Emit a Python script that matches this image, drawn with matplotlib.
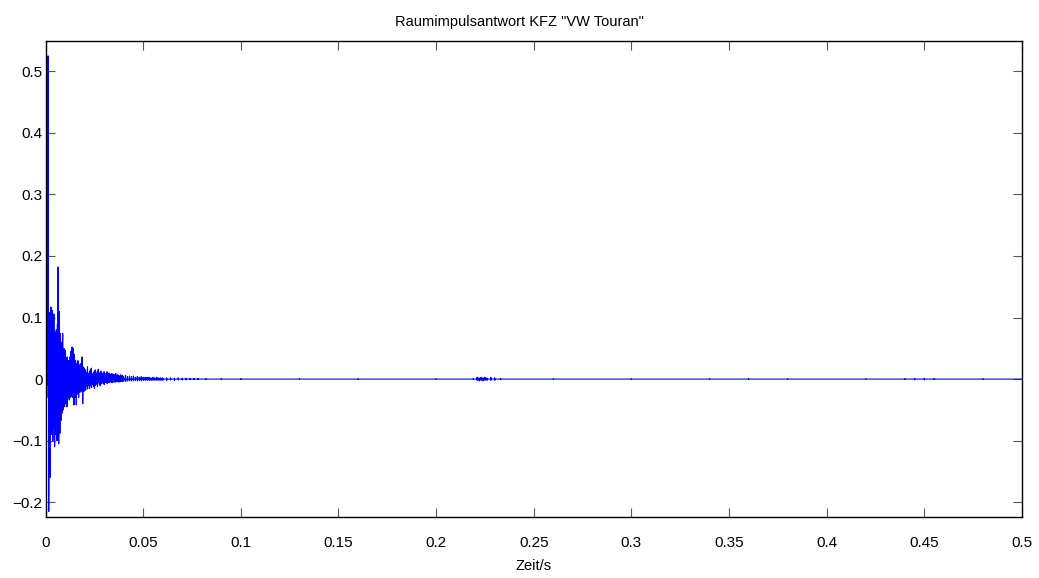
import numpy as np
import matplotlib
matplotlib.use("Agg")
import matplotlib.pyplot as plt

plt.rcParams['font.family'] = ['Liberation Sans', 'DejaVu Sans']

# envelope of the impulse response
# times in ms, local maximum / minimum of the signal around that time
early_t = [0.3, 0.7, 1.0, 1.3, 1.6, 1.9, 2.2, 2.5, 2.8, 3.1, 3.4, 3.7, 4.0, 4.3,
           4.6, 4.9, 5.2, 5.5, 5.8, 6.1, 6.4, 6.7, 7.0, 7.3, 7.6, 7.9, 8.2, 8.5,
           8.8, 9.1, 9.4, 9.7, 10.0, 10.3, 10.6, 10.9, 11.2, 11.5, 11.8, 12.1,
           12.4, 12.7, 13.0, 13.3, 13.6, 13.9, 14.2, 14.5, 14.8, 15.1, 15.4,
           15.7, 16.0, 16.3, 16.6, 16.9, 17.2, 17.5, 17.8, 18.1, 18.4, 18.7,
           19.0, 19.3, 19.6, 19.9]
early_hi = [0.002, 0.004, 0.012, 0.525, 0.05, 0.09, 0.108, 0.06, 0.117, 0.08,
            0.112, 0.07, 0.06, 0.106, 0.05, 0.075, 0.05, 0.08, 0.06, 0.09,
            0.182, 0.07, 0.11, 0.05, 0.074, 0.045, 0.06, 0.04, 0.074, 0.035,
            0.05, 0.03, 0.047, 0.03, 0.035, 0.028, 0.036, 0.025, 0.03, 0.02,
            0.036, 0.03, 0.045, 0.02, 0.052, 0.03, 0.05, 0.025, 0.04, 0.02,
            0.03, 0.018, 0.025, 0.02, 0.03, 0.015, 0.022, 0.015, 0.025, 0.012,
            0.02, 0.036, 0.015, 0.02, 0.01, 0.018]
early_lo = [-0.002, -0.003, -0.01, -0.03, -0.215, -0.12, -0.16, -0.08, -0.07,
            -0.09, -0.06, -0.10, -0.08, -0.06, -0.11, -0.07, -0.09, -0.05,
            -0.10, -0.06, -0.08, -0.105, -0.06, -0.088, -0.05, -0.067, -0.04,
            -0.055, -0.035, -0.05, -0.03, -0.045, -0.03, -0.04, -0.035, -0.045,
            -0.025, -0.03, -0.02, -0.034, -0.025, -0.03, -0.02, -0.028, -0.025,
            -0.03, -0.02, -0.042, -0.025, -0.03, -0.02, -0.042, -0.02, -0.025,
            -0.015, -0.03, -0.018, -0.022, -0.012, -0.02, -0.015, -0.01, -0.04,
            -0.015, -0.02, -0.012]

mid_t = [20.5, 21.0, 21.5, 22.0, 22.5, 23.0, 23.5, 24.0, 24.5, 25.0, 25.5,
         26.0, 26.5, 27.0, 27.5, 28.0, 28.5, 29.0, 29.5, 30.0, 30.5, 31.0,
         31.5, 32.0, 32.5, 33.0, 33.5, 34.0, 34.5, 35.0, 35.5, 36.0, 36.5,
         37.0, 37.5, 38.0, 38.5, 39.0, 39.5, 40.0, 41.0, 42.0, 43.0, 44.0,
         45.0, 46.0, 47.0, 48.0, 49.0, 50.0, 51.0, 52.0, 53.0, 54.0, 55.0,
         56.0, 57.0, 58.0, 59.0, 60.0]
mid_hi = [0.015, 0.011, 0.02, 0.009, 0.012, 0.016, 0.018, 0.008, 0.01, 0.013,
          0.015, 0.009, 0.012, 0.016, 0.009, 0.011, 0.013, 0.007, 0.01, 0.012,
          0.008, 0.009, 0.012, 0.006, 0.01, 0.007, 0.008, 0.009, 0.006, 0.008,
          0.006, 0.009, 0.005, 0.007, 0.006, 0.005, 0.007, 0.005, 0.006, 0.004,
          0.006, 0.004, 0.005, 0.004, 0.005, 0.003, 0.004, 0.003, 0.004, 0.003,
          0.003, 0.003, 0.003, 0.002, 0.003, 0.002, 0.003, 0.002, 0.002, 0.002]
mid_lo = [-0.018, -0.012, -0.016, -0.01, -0.015, -0.011, -0.014, -0.009,
          -0.012, -0.015, -0.01, -0.008, -0.012, -0.006, -0.009, -0.011,
          -0.008, -0.006, -0.007, -0.009, -0.005, -0.006, -0.007, -0.005,
          -0.006, -0.004, -0.005, -0.006, -0.004, -0.005, -0.004, -0.005,
          -0.003, -0.004, -0.005, -0.003, -0.004, -0.003, -0.004, -0.003,
          -0.004, -0.003, -0.003, -0.003, -0.003, -0.002, -0.003, -0.002,
          -0.003, -0.002, -0.002, -0.002, -0.002, -0.002, -0.002, -0.002,
          -0.002, -0.002, -0.002, -0.002]

late_t = [62, 64, 66, 68, 70, 72, 74, 76, 78, 82, 90, 100, 130, 160, 200, 219,
          221, 222, 223, 224, 225, 226, 228, 230, 233, 260, 300, 340, 360, 380,
          420, 440, 445, 450, 455, 480, 500]
late_hi = [0.002, 0.002, 0.0015, 0.002, 0.0015, 0.0015, 0.001, 0.001, 0.001,
           0.0008, 0.0006, 0.0005, 0.0004, 0.0004, 0.0004, 0.0005, 0.003,
           0.002, 0.003, 0.002, 0.003, 0.002, 0.003, 0.002, 0.0008, 0.0004,
           0.0004, 0.0004, 0.0005, 0.0004, 0.0004, 0.0005, 0.0012, 0.0012,
           0.0006, 0.0004, 0.0]
late_lo = [-0.002, -0.0015, -0.002, -0.0015, -0.0015, -0.0015, -0.001, -0.001,
           -0.001, -0.0008, -0.0006, -0.0005, -0.0004, -0.0004, -0.0004,
           -0.0005, -0.002, -0.003, -0.002, -0.003, -0.002, -0.002, -0.002,
           -0.002, -0.0008, -0.0004, -0.0004, -0.0004, -0.0005, -0.0004,
           -0.0004, -0.0005, -0.0012, -0.0012, -0.0006, -0.0004, 0.0]

title = 'Raumimpulsantwort KFZ "VW Touran"'
xticks = [0, 0.05, 0.1, 0.15, 0.2, 0.25, 0.3, 0.35, 0.4, 0.45, 0.5]
xtick_labels = ['0', '0.05', '0.1', '0.15', '0.2', '0.25', '0.3', '0.35',
                '0.4', '0.45', '0.5']
yticks = [-0.2, -0.1, 0, 0.1, 0.2, 0.3, 0.4, 0.5]
ytick_labels = ['\u22120.2', '\u22120.1', '0', '0.1', '0.2', '0.3', '0.4', '0.5']

# trace: zero, max, min, zero around each time
t_all = np.array(early_t + mid_t + late_t) / 1000.0
hi_all = np.array(early_hi + mid_hi + late_hi)
lo_all = np.array(early_lo + mid_lo + late_lo)
dt = 0.00007
n = len(t_all)
t_sig = np.empty(4 * n)
y_sig = np.zeros(4 * n)
t_sig[0::4] = t_all - dt
t_sig[1::4] = t_all
t_sig[2::4] = t_all + dt
t_sig[3::4] = t_all + 2 * dt
y_sig[1::4] = hi_all
y_sig[2::4] = lo_all
t_sig = np.concatenate([[0.0], t_sig[1:]])

fig = plt.figure(figsize=(10.39, 5.78), dpi=100)
ax = fig.add_axes([0.0438, 0.1055, 0.9398, 0.8235])
ax.plot(t_sig, y_sig, color='#0000ff', linewidth=0.8)

ax.set_xlim(0, 0.5)
ax.set_ylim(-0.224, 0.549)
ax.set_xticks(xticks)
ax.set_xticklabels(xtick_labels)
ax.set_yticks(yticks)
ax.set_yticklabels(ytick_labels)
ax.tick_params(direction='in', length=6.5, width=0.8, color='#555555',
               top=True, right=True, labelsize=11)
ax.tick_params(axis='x', pad=14)
ax.tick_params(axis='y', pad=2)
for s in ax.spines.values():
    s.set_linewidth(1.0)
fig.text(0.5, 1 - 22 / 578, title, fontsize=10.5, ha='center', va='center')
ax.set_xlabel('Zeit/s', fontsize=10.5, labelpad=6)

fig.savefig('out.png', dpi=100)
